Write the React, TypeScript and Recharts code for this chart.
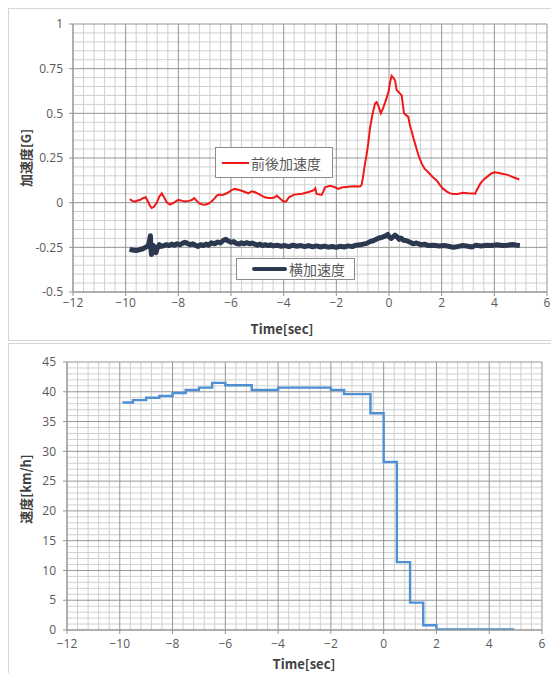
import React from "react";
import { LineChart, Line, XAxis, YAxis, ReferenceLine, Legend } from "recharts";

// ---- Top chart: acceleration ----
const accelXTicks = [-12, -10, -8, -6, -4, -2, 0, 2, 4, 6];
const accelYTicks = [-0.5, -0.25, 0, 0.25, 0.5, 0.75, 1];

const longT = [
  -9.84, -9.75, -9.65, -9.55, -9.46, -9.35, -9.24, -9.14, -9.07, -9.01, -8.92, -8.82, -8.72, -8.63, -8.54,
  -8.44, -8.32, -8.16, -8.05, -7.96, -7.85, -7.75, -7.6, -7.49, -7.4, -7.3, -7.2, -7.08, -6.98, -6.87,
  -6.77, -6.65, -6.54, -6.43, -6.32, -6.2, -6.1, -5.98, -5.85, -5.72, -5.59, -5.47, -5.34, -5.21, -5.08,
  -4.96, -4.84, -4.71, -4.58, -4.45, -4.33, -4.26, -4.12, -4.0, -3.9, -3.8, -3.6, -3.3, -3.05, -2.85,
  -2.8, -2.75, -2.56, -2.5, -2.43, -2.24, -2.05, -1.93, -1.8, -1.74, -1.6, -1.48, -1.3, -1.1, -1.04,
  -0.98, -0.91, -0.85, -0.79, -0.72, -0.62, -0.53, -0.47, -0.4, -0.31, -0.22, -0.15, -0.02, 0.05, 0.1,
  0.16, 0.23, 0.29, 0.36, 0.42, 0.48, 0.57, 0.65, 0.73, 0.8, 0.86, 0.95, 1.03, 1.13, 1.24,
  1.35, 1.49, 1.65, 1.81, 1.93, 2.06, 2.2, 2.32, 2.44, 2.6, 2.82, 3.0, 3.2, 3.27, 3.33,
  3.46, 3.6, 3.77, 3.9, 4.02, 4.12, 4.21, 4.35, 4.47, 4.6, 4.72, 4.85, 4.95,
];
const longV = [
  0.02, 0.01, 0.005, 0.012, 0.015, 0.025, 0.03, 0.002, -0.02, -0.03, -0.022, 0.0, 0.035, 0.052, 0.03,
  0.002, -0.011, 0.0, 0.012, 0.015, 0.01, 0.007, 0.01, 0.015, 0.026, 0.01, -0.004, -0.01, -0.011, -0.006,
  0.002, 0.02, 0.04, 0.045, 0.043, 0.05, 0.058, 0.07, 0.077, 0.072, 0.067, 0.06, 0.052, 0.064, 0.058,
  0.049, 0.04, 0.03, 0.026, 0.026, 0.03, 0.04, 0.02, 0.006, 0.008, 0.03, 0.045, 0.05, 0.06, 0.07,
  0.08, 0.049, 0.043, 0.06, 0.086, 0.095, 0.086, 0.077, 0.085, 0.086, 0.088, 0.09, 0.092, 0.09, 0.1,
  0.15, 0.22, 0.27, 0.33, 0.42, 0.5, 0.555, 0.563, 0.54, 0.5, 0.53, 0.56, 0.62, 0.68, 0.71,
  0.7, 0.685, 0.63, 0.62, 0.61, 0.6, 0.5, 0.49, 0.48, 0.43, 0.4, 0.35, 0.31, 0.26, 0.22,
  0.19, 0.17, 0.145, 0.124, 0.1, 0.077, 0.062, 0.052, 0.049, 0.048, 0.056, 0.053, 0.052, 0.049, 0.07,
  0.105, 0.13, 0.15, 0.165, 0.17, 0.168, 0.165, 0.16, 0.157, 0.15, 0.142, 0.135, 0.13,
];

const latT = [
  -9.85, -9.75, -9.6, -9.45, -9.35, -9.25, -9.18, -9.12, -9.08, -9.06, -9.04, -9.02, -8.98, -8.95, -8.9,
  -8.85, -8.8, -8.72, -8.65, -8.55, -8.45, -8.35, -8.25, -8.15, -8.05, -7.95, -7.85, -7.75, -7.65, -7.55,
  -7.45, -7.35, -7.25, -7.15, -7.05, -6.95, -6.85, -6.75, -6.62, -6.5, -6.4, -6.3, -6.2, -6.1, -6.0,
  -5.9, -5.8, -5.7, -5.6, -5.5, -5.4, -5.3, -5.2, -5.1, -5.0, -4.9, -4.8, -4.7, -4.6, -4.5,
  -4.4, -4.25, -4.1, -3.95, -3.8, -3.65, -3.5, -3.35, -3.2, -3.05, -2.9, -2.75, -2.6, -2.45, -2.3,
  -2.15, -2.0, -1.85, -1.7, -1.55, -1.4, -1.25, -1.1, -0.98, -0.85, -0.72, -0.6, -0.48, -0.38, -0.28,
  -0.2, -0.12, -0.05, 0.0, 0.08, 0.15, 0.23, 0.3, 0.38, 0.45, 0.55, 0.67, 0.78, 0.92, 1.05,
  1.2, 1.35, 1.5, 1.7, 1.9, 2.1, 2.3, 2.45, 2.6, 2.8, 3.0, 3.15, 3.3, 3.5, 3.7,
  3.9, 4.1, 4.3, 4.5, 4.7, 4.85, 4.97,
];
const latV = [
  -0.26, -0.265, -0.268, -0.262, -0.258, -0.25, -0.245, -0.23, -0.2, -0.185, -0.26, -0.29, -0.27, -0.24, -0.25,
  -0.28, -0.255, -0.235, -0.245, -0.24, -0.235, -0.24, -0.232, -0.238, -0.23, -0.235, -0.228, -0.222, -0.228, -0.235,
  -0.23, -0.238, -0.245, -0.235, -0.24, -0.232, -0.238, -0.225, -0.23, -0.22, -0.226, -0.212, -0.205, -0.215, -0.222,
  -0.218, -0.228, -0.232, -0.225, -0.23, -0.224, -0.23, -0.226, -0.232, -0.238, -0.232, -0.24, -0.235, -0.24, -0.236,
  -0.242, -0.238, -0.244, -0.24, -0.246, -0.238, -0.244, -0.24, -0.246, -0.24, -0.247, -0.242, -0.248, -0.243, -0.249,
  -0.245, -0.25, -0.244, -0.248, -0.242, -0.246, -0.238, -0.236, -0.232, -0.228, -0.218, -0.213, -0.205, -0.198, -0.195,
  -0.19, -0.185, -0.178, -0.19, -0.2, -0.192, -0.182, -0.19, -0.205, -0.198, -0.21, -0.213, -0.22, -0.23, -0.226,
  -0.235, -0.232, -0.24, -0.238, -0.242, -0.24, -0.245, -0.25, -0.246, -0.24, -0.244, -0.248, -0.238, -0.242, -0.238,
  -0.24, -0.236, -0.24, -0.238, -0.234, -0.238, -0.24,
];

// ---- Bottom chart: speed ----
const speedXTicks = [-12, -10, -8, -6, -4, -2, 0, 2, 4, 6];
const speedYTicks = [0, 5, 10, 15, 20, 25, 30, 35, 40, 45];
const speedT = [-9.9, -9.5, -9.0, -8.5, -8.0, -7.5, -7.0, -6.5, -6.0, -5.0, -4.0, -2.0, -1.5, -0.5, 0.0, 0.5, 1.0, 1.5, 2.0, 4.95];
const speedV = [38.2, 38.6, 39.0, 39.3, 39.8, 40.3, 40.7, 41.5, 41.1, 40.3, 40.7, 40.3, 39.6, 36.4, 28.2, 11.4, 4.6, 0.8, 0.1, 0.1];

const longData = longT.map((t, i) => ({ t, v: longV[i] }));
const latData = latT.map((t, i) => ({ t, v: latV[i] }));
const speedData = speedT.map((t, i) => ({ t, v: speedV[i] }));

// grid positions (axis values)
const minorX: number[] = [];
for (let i = 1; i < 45; i++) if (i % 5 !== 0) minorX.push(+(-12 + i * 0.4).toFixed(2));
const minorYTop: number[] = [];
for (let i = 1; i < 30; i++) if (i % 5 !== 0) minorYTop.push(+(-0.5 + i * 0.05).toFixed(3));
const minorYBot: number[] = [];
for (let i = 1; i < 45; i++) if (i % 5 !== 0) minorYBot.push(i);

const TICK_FONT = "'Open Sans', 'Noto Sans', sans-serif";
const TITLE_FONT = "'Noto Sans CJK JP', 'Noto Sans', sans-serif";
const tickStyle = { fill: "#595959", fontSize: 12, fontFamily: TICK_FONT };
const MAJOR = "#959595";
const MINOR = "#cfcfcf";
const RED = "#f01818";
const NAVY = "#2b3850";
const BLUE = "#4f90d2";

const xFmt = (v: number) => (v < 0 ? "\u2212" + Math.abs(v) : String(v));

const gridLines = (xs: number[], ys: number[], color: string, prefix: string) => [
  ...xs.map((v) => <ReferenceLine key={`${prefix}x${v}`} x={v} stroke={color} strokeWidth={1} />),
  ...ys.map((v) => <ReferenceLine key={`${prefix}y${v}`} y={v} stroke={color} strokeWidth={1} />),
];

const legendPos: Record<string, { left: number; top: number; width: number; height: number; lineLeft: number; lineW: number; lineH: number }> = {
  "前後加速度": { left: 207, top: 139, width: 118, height: 31, lineLeft: 6, lineW: 27, lineH: 2 },
  "横加速度": { left: 228, top: 250, width: 119, height: 22, lineLeft: 15, lineW: 35, lineH: 4 },
};

const renderLegend = (props: any) => {
  const payload = props.payload || [];
  return (
    <div style={{ position: "relative", width: 551, height: 333 }}>
      {payload.map((e: any) => {
        const p = legendPos[e.value];
        if (!p) return null;
        return (
          <div
            key={e.value}
            style={{
              position: "absolute",
              left: p.left,
              top: p.top,
              width: p.width,
              height: p.height,
              boxSizing: "border-box",
              border: "1px solid #8c8c8c",
              background: "#fff",
              display: "flex",
              alignItems: "center",
            }}
          >
            <div style={{ marginLeft: p.lineLeft, width: p.lineW, height: p.lineH, background: e.color, borderRadius: p.lineH > 2 ? 2 : 0 }} />
            <span style={{ marginLeft: 2, fontSize: 14, color: "#595959", fontFamily: TITLE_FONT, lineHeight: "16px" }}>{e.value}</span>
          </div>
        );
      })}
    </div>
  );
};

const AxisTitle = ({ px, py, text, rotate }: { px: number; py: number; text: string; rotate?: boolean }) => (
  <text
    x={px}
    y={py}
    textAnchor="middle"
    dominantBaseline="central"
    transform={rotate ? `rotate(-90 ${px} ${py})` : undefined}
    style={{ fontFamily: TITLE_FONT, fontSize: 13, fontWeight: 700, fill: "#404040" }}
  >
    {text}
  </text>
);

export default function App() {
  return (
    <div style={{ position: "relative", width: 551, height: 665, background: "#fff" }}>
      <div style={{ position: "absolute", left: 0, top: 0, width: 551, height: 333, boxSizing: "border-box", border: "1px solid #d6d6d6" }} />
      <div style={{ position: "absolute", left: 0, top: 335, width: 551, height: 340, boxSizing: "border-box", border: "1px solid #d6d6d6" }} />

      <div style={{ position: "absolute", left: 0, top: 0 }}>
        <LineChart width={551} height={333} margin={{ top: 16, right: 12, left: 0, bottom: 19 }}>
          <XAxis
            type="number"
            dataKey="t"
            domain={[-12, 6]}
            ticks={accelXTicks}
            allowDataOverflow
            tickFormatter={xFmt}
            tick={tickStyle}
            tickSize={4}
            tickMargin={2}
            stroke={MAJOR}
            height={30}
            label={<AxisTitle px={274} py={320} text="Time[sec]" />}
          />
          <YAxis
            type="number"
            domain={[-0.5, 1]}
            ticks={accelYTicks}
            allowDataOverflow
            tick={tickStyle}
            tickSize={4}
            tickMargin={6}
            stroke={MAJOR}
            width={65}
            label={<AxisTitle px={17} py={150} text="加速度[G]" rotate />}
          />
          {gridLines(minorX, minorYTop, MINOR, "m")}
          {gridLines(accelXTicks, accelYTicks, MAJOR, "M")}
          <Line data={latData} dataKey="v" name="横加速度" type="linear" stroke={NAVY} strokeWidth={5} dot={false} isAnimationActive={false} strokeLinejoin="round" />
          <Line data={longData} dataKey="v" name="前後加速度" type="linear" stroke={RED} strokeWidth={2} dot={false} isAnimationActive={false} />
          <Legend
            verticalAlign="middle"
            align="center"
            wrapperStyle={{ top: 0, left: 0, width: 551, height: 333, pointerEvents: "none" }}
            content={renderLegend}
          />
        </LineChart>
      </div>

      <div style={{ position: "absolute", left: 0, top: 335 }}>
        <LineChart width={551} height={330} margin={{ top: 19, right: 17, left: 0, bottom: 13 }}>
          <XAxis
            type="number"
            dataKey="t"
            domain={[-12, 6]}
            ticks={speedXTicks}
            allowDataOverflow
            tickFormatter={xFmt}
            tick={tickStyle}
            tickSize={4}
            tickMargin={5}
            stroke={MAJOR}
            height={30}
            label={<AxisTitle px={296} py={320} text="Time[sec]" />}
          />
          <YAxis
            type="number"
            domain={[0, 45]}
            ticks={speedYTicks}
            allowDataOverflow
            tick={tickStyle}
            tickSize={4}
            tickMargin={7}
            stroke={MAJOR}
            width={59}
            label={<AxisTitle px={17} py={146} text="速度[km/h]" rotate />}
          />
          {gridLines(minorX, minorYBot, MINOR, "m")}
          {gridLines(speedXTicks, speedYTicks, MAJOR, "M")}
          <Line data={speedData} dataKey="v" name="速度" type="stepAfter" stroke={BLUE} strokeWidth={2.4} dot={false} isAnimationActive={false} />
        </LineChart>
      </div>
    </div>
  );
}
